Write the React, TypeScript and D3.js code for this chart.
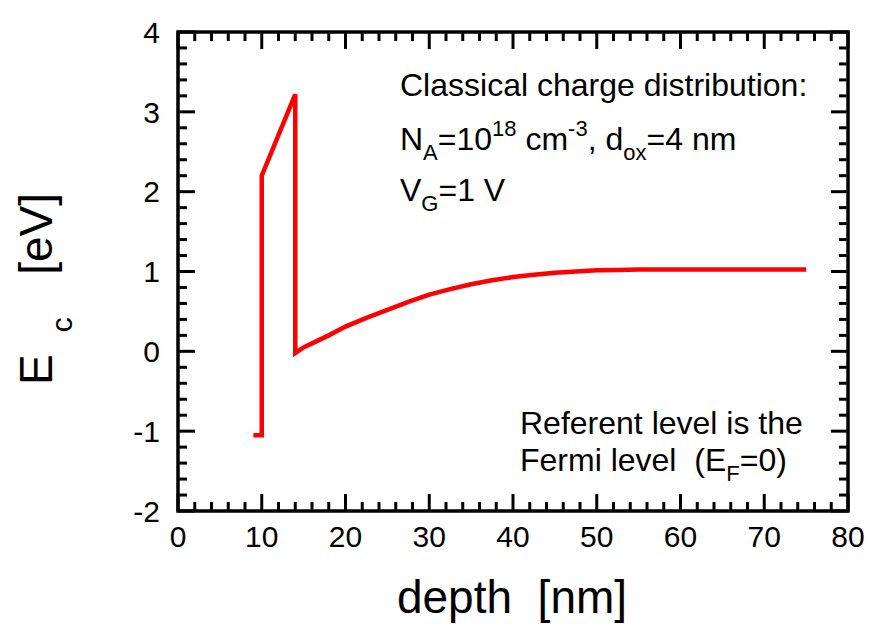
import React from "react";
import * as d3 from "d3";

const depthNm = [9, 10, 10, 14, 14, 15, 16, 18, 20, 22.5, 25, 27.5, 30, 32.5, 35, 37.5, 40, 42.5, 45, 47.5, 50, 52.5, 55, 60, 65, 70, 75];
const ecEv = [-1.05, -1.05, 2.2, 3.22, -0.02, 0.05, 0.1, 0.2, 0.31, 0.42, 0.52, 0.62, 0.71, 0.78, 0.84, 0.89, 0.93, 0.96, 0.985, 1.0, 1.015, 1.02, 1.025, 1.025, 1.025, 1.025, 1.025];
const xTickValues = [0, 10, 20, 30, 40, 50, 60, 70, 80];
const yTickValues = [-2, -1, 0, 1, 2, 3, 4];

const FONT = "'Liberation Sans', Arial, Helvetica, sans-serif";

export default function App() {
  const W = 871, H = 624;
  const x = d3.scaleLinear().domain([0, 80]).range([178, 848]);
  const y = d3.scaleLinear().domain([-2, 4]).range([511, 32]);
  const [x0, x1] = x.range();
  const [y0, y1] = y.range();
  const line = d3.line<number>().x((_, i) => x(depthNm[i])).y((d) => y(d));
  const xMinor = d3.range(0, 80.001, 2).filter((v) => v % 10 !== 0);
  const yMinor = d3.range(-2, 4.001, 0.2).map((v) => Math.round(v * 10) / 10).filter((v) => Math.abs(v - Math.round(v)) > 1e-6);
  const MAJ = 17, MIN = 9, TW = 3;
  const SUB = 22;
  return (
    <svg width={W} height={H} style={{ position: "absolute", left: 0, top: 0, background: "#fff" }} fontFamily={FONT}>
      <rect x={0} y={0} width={W} height={H} fill="#fff" />
      <path d={line(ecEv) || ""} fill="none" stroke="#ff0000" strokeWidth={4.5} strokeLinejoin="miter" />
      <g stroke="#000" strokeWidth={TW}>
        {xTickValues.map((v) => (
          <g key={"xm" + v}>
            <line x1={x(v)} x2={x(v)} y1={y0} y2={y0 - MAJ} />
            <line x1={x(v)} x2={x(v)} y1={y1} y2={y1 + MAJ} />
          </g>
        ))}
        {xMinor.map((v) => (
          <g key={"xn" + v}>
            <line x1={x(v)} x2={x(v)} y1={y0} y2={y0 - MIN} />
            <line x1={x(v)} x2={x(v)} y1={y1} y2={y1 + MIN} />
          </g>
        ))}
        {yTickValues.map((v) => (
          <g key={"ym" + v}>
            <line x1={x0} x2={x0 + MAJ} y1={y(v)} y2={y(v)} />
            <line x1={x1} x2={x1 - MAJ} y1={y(v)} y2={y(v)} />
          </g>
        ))}
        {yMinor.map((v) => (
          <g key={"yn" + v}>
            <line x1={x0} x2={x0 + MIN} y1={y(v)} y2={y(v)} />
            <line x1={x1} x2={x1 - MIN} y1={y(v)} y2={y(v)} />
          </g>
        ))}
        <rect x={x0} y={y1} width={x1 - x0} height={y0 - y1} fill="none" strokeWidth={3.5} />
      </g>
      <g fontSize={30} fill="#000">
        {xTickValues.map((v) => (
          <text key={"xl" + v} x={x(v)} y={547} textAnchor="middle">{v}</text>
        ))}
        {yTickValues.map((v) => (
          <text key={"yl" + v} x={160} y={y(v)} dy="0.36em" textAnchor="end">{v}</text>
        ))}
      </g>
      <text x={512} y={613} fontSize={46} textAnchor="middle" style={{ whiteSpace: "pre" }}>depth  [nm]</text>
      <text transform="translate(52,385) rotate(-90)" fontSize={46} style={{ whiteSpace: "pre" }}>
        E<tspan fontSize={30} dx={22} dy={20}>c</tspan><tspan dx={17} dy={-20}>  [eV]</tspan>
      </text>
      <g fontSize={32} fill="#000">
        <text x={400} y={96}>Classical charge distribution:</text>
        <text x={400} y={150} style={{ whiteSpace: "pre" }}>
          N<tspan fontSize={SUB} dy={10}>A</tspan><tspan dy={-10}>=10</tspan><tspan fontSize={SUB} dy={-14}>18</tspan><tspan dy={14}> cm</tspan><tspan fontSize={SUB} dy={-14}>-3</tspan><tspan dy={14}>, d</tspan><tspan fontSize={SUB} dy={10}>ox</tspan><tspan dy={-10}>=4 nm</tspan>
        </text>
        <text x={400} y={201} style={{ whiteSpace: "pre" }}>
          V<tspan fontSize={SUB} dy={10}>G</tspan><tspan dy={-10}>=1 V</tspan>
        </text>
        <text x={520} y={434}>Referent level is the</text>
        <text x={520} y={471} style={{ whiteSpace: "pre" }}>
          Fermi level  (E<tspan fontSize={SUB} dy={10}>F</tspan><tspan dy={-10}>=0)</tspan>
        </text>
      </g>
    </svg>
  );
}
